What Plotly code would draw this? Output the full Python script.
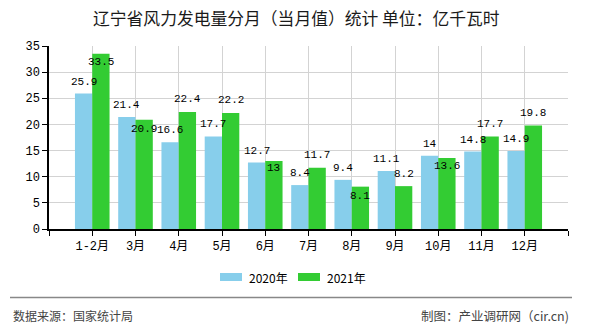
import plotly.graph_objects as go

# ---- data ----
months = ["1-2月", "3月", "4月", "5月", "6月", "7月", "8月", "9月", "10月", "11月", "12月"]
values_2020 = [25.9, 21.4, 16.6, 17.7, 12.7, 8.4, 9.4, 11.1, 14, 14.8, 14.9]
values_2021 = [33.5, 20.9, 22.4, 22.2, 13, 11.7, 8.1, 8.2, 13.6, 17.7, 19.8]
series_names = ["2020年", "2021年"]
y_ticks = [0, 5, 10, 15, 20, 25, 30, 35]

title_text = "辽宁省风力发电量分月（当月值）统计 单位：亿千瓦时"
source_text = "数据来源：国家统计局"
maker_text = "制图：产业调研网（cir.cn)"

# ---- style ----
W, H = 590, 330
ML, MR, MT, MB = 49, 22, 46, 101
PW, PH = W - ML - MR, H - MT - MB
C2020 = "#87CEEB"
C2021 = "#33CC33"
BARGAP = 0.2
# label vertical shift (px) relative to bar top: above (+) or sunk below (-)
shift_2020 = [12] * len(months)
shift_2021 = [-8, -9, 13, 13, -7, 13, -9, 12, -8, 12, 12]
LABEL_FONT = dict(family="Liberation Mono, DejaVu Sans Mono, monospace", size=11, color="#000")


def px_x(px):
    return (px - ML) / PW


def px_y(py):
    return (H - MB - py) / PH


xs = list(range(len(months)))

fig = go.Figure()
fig.add_trace(go.Bar(x=xs, y=values_2020, name=series_names[0], marker_color=C2020,
                     marker_line_width=0, showlegend=False))
fig.add_trace(go.Bar(x=xs, y=values_2021, name=series_names[1], marker_color=C2021,
                     marker_line_width=0, showlegend=False))

half = (1 - BARGAP) / 4
annotations = []
for i, (a, b) in enumerate(zip(values_2020, values_2021)):
    annotations.append(dict(x=i - half, y=a, text=f"{a:g}", showarrow=False, xref="x", yref="y",
                            yanchor="middle", yshift=shift_2020[i], font=LABEL_FONT))
    annotations.append(dict(x=i + half, y=b, text=f"{b:g}", showarrow=False, xref="x", yref="y",
                            yanchor="middle", yshift=shift_2021[i], font=LABEL_FONT))

# title
annotations.append(dict(x=px_x(296), y=px_y(18), xref="paper", yref="paper", text=title_text,
                        showarrow=False, xanchor="center", yanchor="middle",
                        font=dict(family="Noto Sans CJK SC", size=16.8, color="#1a1a1a")))
# legend (manual)
shapes = []
for name, col, x0, tx in [(series_names[0], C2020, 220, 247), (series_names[1], C2021, 298, 325)]:
    shapes.append(dict(type="rect", xref="paper", yref="paper", x0=px_x(x0), x1=px_x(x0 + 22),
                       y0=px_y(273), y1=px_y(281), fillcolor=col, line_width=0))
    annotations.append(dict(x=px_x(tx), y=px_y(277), xref="paper", yref="paper", text=name,
                            showarrow=False, xanchor="left", yanchor="middle",
                            font=dict(family="Noto Sans CJK SC", size=12, color="#000")))
# separator
shapes.append(dict(type="line", xref="paper", yref="paper", x0=px_x(10), x1=px_x(572),
                   y0=px_y(297.5), y1=px_y(297.5), line=dict(color="#888", width=1.5)))
# footer
annotations.append(dict(x=px_x(11), y=px_y(315), xref="paper", yref="paper", text=source_text,
                        showarrow=False, xanchor="left", yanchor="middle",
                        font=dict(family="Noto Sans CJK SC", size=12, color="#444")))
annotations.append(dict(x=px_x(571), y=px_y(315), xref="paper", yref="paper", text=maker_text,
                        showarrow=False, xanchor="right", yanchor="middle",
                        font=dict(family="Noto Sans CJK SC", size=12.5, color="#444")))

tick_font = dict(family="Liberation Mono, Noto Sans CJK SC", size=12, color="#000")
fig.update_layout(
    width=W, height=H,
    margin=dict(l=ML, r=MR, t=MT, b=MB, pad=0),
    paper_bgcolor="white", plot_bgcolor="white",
    barmode="group", bargap=BARGAP, bargroupgap=0,
    showlegend=False,
    annotations=annotations, shapes=shapes,
    xaxis=dict(range=[-1, len(months)], tickmode="array",
               tickvals=[-1] + xs + [len(months)], ticktext=[""] + months + [""],
               showgrid=True, gridcolor="#d3d3d3", gridwidth=1,
               showline=True, linecolor="#000", linewidth=1.5,
               ticks="outside", ticklen=5, tickcolor="#000", tickfont=tick_font,
               zeroline=False, fixedrange=True),
    yaxis=dict(range=[0, 35], tickmode="array", tickvals=y_ticks,
               showgrid=True, gridcolor="#d3d3d3", gridwidth=1,
               showline=True, linecolor="#000", linewidth=1.5,
               ticks="outside", ticklen=5, tickcolor="#000", tickfont=tick_font,
               zeroline=False, fixedrange=True),
)

fig.write_html("out.html")
